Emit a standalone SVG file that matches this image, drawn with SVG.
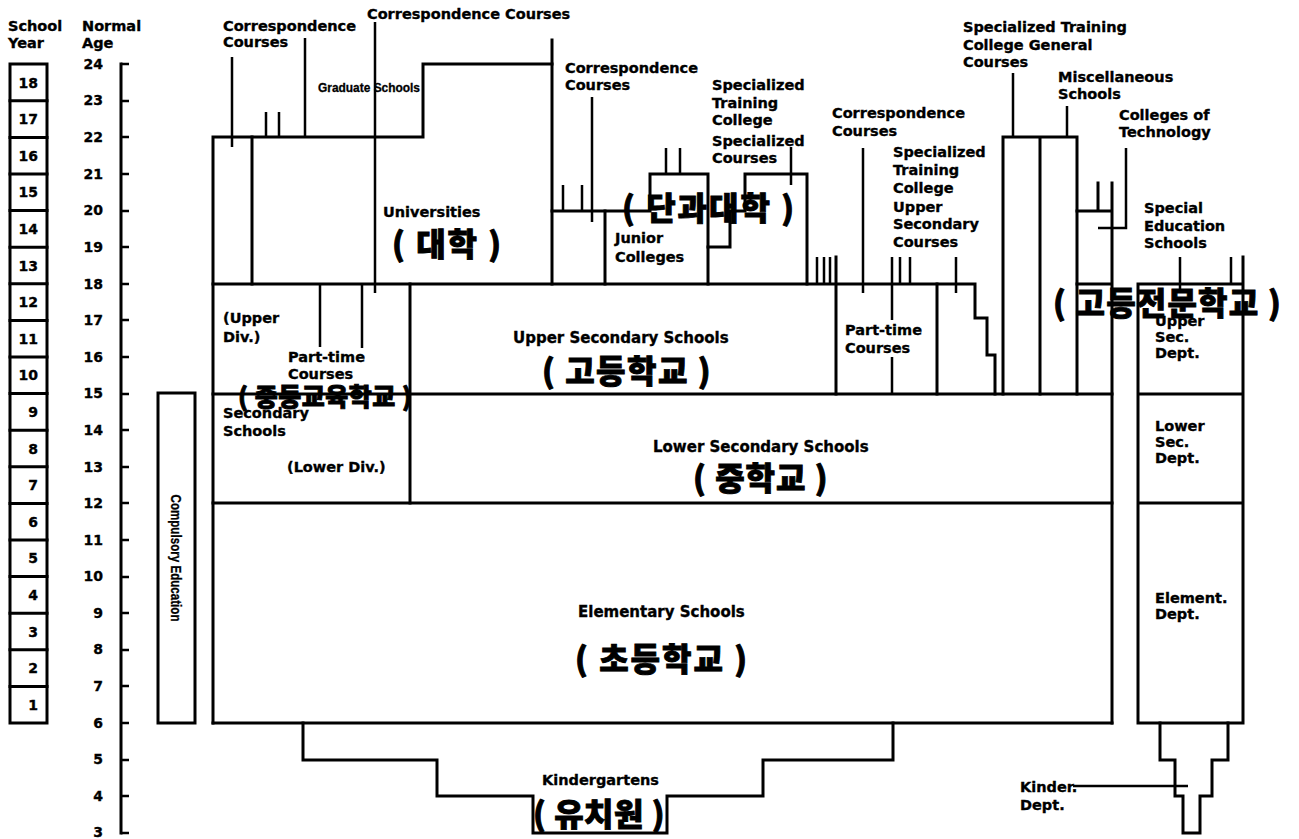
<svg xmlns="http://www.w3.org/2000/svg" width="1299" height="839" viewBox="0 0 1299 839">
<style>
.ln{fill:none;stroke:#000;stroke-width:3;stroke-linecap:square}
.pt{fill:none;stroke:#000;stroke-width:2.5;stroke-linecap:butt}
.t{font-family:"DejaVu Sans",sans-serif;font-weight:bold;font-size:14.5px;fill:#000;stroke:#000;stroke-width:0.35px}
.tb{font-size:15px}
.n{font-family:"DejaVu Sans",sans-serif;font-weight:bold;font-size:14px;fill:#000;stroke:#000;stroke-width:0.35px}
.k{font-family:"Noto Sans CJK KR",sans-serif;font-weight:900;font-size:32px;fill:#000;stroke:#000;stroke-width:0.9px;letter-spacing:2px}
.c{font-family:"Liberation Sans",sans-serif;font-weight:bold;fill:#000;stroke:#000;stroke-width:0.3px}
</style>
<rect width="1299" height="839" fill="#fff"/>

<g id="headers">
<text class="t" x="8" y="31">School</text>
<text class="t" x="8" y="48">Year</text>
<text class="t" x="82" y="31">Normal</text>
<text class="t" x="82" y="48">Age</text>
</g>

<g id="school-year">
<rect class="ln" x="10" y="64" width="37" height="659"/>
<path class="ln" d="M10,686.4H47M10,649.8H47M10,613.2H47M10,576.6H47M10,540H47M10,503.4H47M10,466.8H47M10,430.2H47M10,393.6H47M10,357H47M10,320.4H47M10,283.8H47M10,247.2H47M10,210.6H47M10,174H47M10,137.4H47M10,100.8H47"/>
<g class="n" text-anchor="end">
<text x="38" y="710">1</text><text x="38" y="673">2</text><text x="38" y="637">3</text><text x="38" y="600">4</text><text x="38" y="563">5</text><text x="38" y="527">6</text><text x="38" y="490">7</text><text x="38" y="454">8</text><text x="38" y="417">9</text><text x="38" y="380">10</text><text x="38" y="344">11</text><text x="38" y="307">12</text><text x="38" y="271">13</text><text x="38" y="234">14</text><text x="38" y="197">15</text><text x="38" y="161">16</text><text x="38" y="124">17</text><text x="38" y="88">18</text>
</g>
</g>

<g id="age-axis">
<path class="ln" d="M121,64V833"/>
<path class="pt" d="M121,64H129M121,101H129M121,137H129M121,174H129M121,211H129M121,247H129M121,284H129M121,320H129M121,357H129M121,394H129M121,430H129M121,467H129M121,503H129M121,540H129M121,577H129M121,613H129M121,650H129M121,686H129M121,723H129M121,760H129M121,796H129M121,833H129"/>
<g class="n" text-anchor="end">
<text x="103" y="69">24</text><text x="103" y="105">23</text><text x="103" y="142">22</text><text x="103" y="179">21</text><text x="103" y="215">20</text><text x="103" y="252">19</text><text x="103" y="289">18</text><text x="103" y="325">17</text><text x="103" y="362">16</text><text x="103" y="398">15</text><text x="103" y="435">14</text><text x="103" y="472">13</text><text x="103" y="508">12</text><text x="103" y="545">11</text><text x="103" y="581">10</text><text x="103" y="618">9</text><text x="103" y="654">8</text><text x="103" y="691">7</text><text x="103" y="728">6</text><text x="103" y="764">5</text><text x="103" y="801">4</text><text x="103" y="837">3</text>
</g>
</g>

<g id="compulsory">
<rect class="ln" x="158" y="393" width="37" height="330"/>
<text class="c" font-size="15" text-anchor="middle" transform="translate(176,558) rotate(90)" y="5" textLength="127" lengthAdjust="spacingAndGlyphs">Compulsory Education</text>
</g>

<g id="universities">
<path class="ln" d="M213,723V137H423V64H552"/>
<path class="ln" d="M552,40V284"/>
<path class="ln" d="M252,137V284"/>
<text class="t" x="383" y="217">Universities</text>
<text class="c" font-size="12" x="318" y="92" textLength="102" lengthAdjust="spacingAndGlyphs">Graduate Schools</text>
</g>

<g id="junior-colleges">
<path class="ln" d="M552,211H650V174H708V284"/>
<path class="ln" d="M605,211V284"/>
<text class="t" x="615" y="243">Junior</text>
<text class="t" x="615" y="262">Colleges</text>
</g>

<g id="specialized-college">
<path class="ln" d="M708,247H730V211H745V174H807V284"/>
<text class="t" x="712" y="90">Specialized</text>
<text class="t" x="712" y="108">Training</text>
<text class="t" x="712" y="125">College</text>
<text class="t" x="712" y="146">Specialized</text>
<text class="t" x="712" y="163">Courses</text>
</g>

<g id="upper-secondary">
<path class="ln" d="M213,284H975V318H987V355H995V394"/>
<path class="ln" d="M836,257V394M937,284V394"/>
<text class="t tb" x="513" y="343">Upper Secondary Schools</text>
<text class="t" x="845" y="335">Part-time</text>
<text class="t" x="845" y="353">Courses</text>
</g>

<g id="secondary-schools">
<path class="ln" d="M410,284V503"/>
<text class="t" x="223" y="323">(Upper</text>
<text class="t" x="223" y="342">Div.)</text>
<text class="t" x="288" y="362">Part-time</text>
<text class="t" x="288" y="379">Courses</text>
<text class="t" x="223" y="418">Secondary</text>
<text class="t" x="223" y="436">Schools</text>
<text class="t" x="287" y="472">(Lower Div.)</text>
</g>

<g id="training-general">
<path class="ln" d="M1003,394V137H1077V394M1040,137V394"/>
<text class="t" x="963" y="32">Specialized Training</text>
<text class="t" x="963" y="50">College General</text>
<text class="t" x="963" y="67">Courses</text>
<text class="t" x="1058" y="82">Miscellaneous</text>
<text class="t" x="1058" y="99">Schools</text>
</g>

<g id="colleges-technology">
<path class="ln" d="M1077,211H1112M1112,183V723M1098,183V211M1077,284H1112"/>
<text class="t" x="1119" y="120">Colleges of</text>
<text class="t" x="1119" y="137">Technology</text>
</g>

<g id="lower-elementary">
<path class="ln" d="M213,394H1112M213,503H1112M213,723H1112"/>
<text class="t tb" x="653" y="452">Lower Secondary Schools</text>
<text class="t tb" x="578" y="617">Elementary Schools</text>
</g>

<g id="kindergartens">
<path class="ln" d="M303,723V760H437V796H533V833H667V796H763V760H893V723"/>
<text class="t" x="542" y="785">Kindergartens</text>
</g>

<g id="special-education">
<path class="ln" d="M1138,723V284H1243V723ZM1243,257V284M1138,394H1243M1138,503H1243"/>
<path class="ln" d="M1160,723V760H1175V796H1183V833H1200V796H1212V760H1228V723"/>
<text class="t" x="1144" y="213">Special</text>
<text class="t" x="1144" y="231">Education</text>
<text class="t" x="1144" y="248">Schools</text>
<text class="t" x="1155" y="326">Upper</text>
<text class="t" x="1155" y="342">Sec.</text>
<text class="t" x="1155" y="358">Dept.</text>
<text class="t" x="1155" y="431">Lower</text>
<text class="t" x="1155" y="447">Sec.</text>
<text class="t" x="1155" y="463">Dept.</text>
<text class="t" x="1155" y="603">Element.</text>
<text class="t" x="1155" y="619">Dept.</text>
<text class="t" x="1020" y="792">Kinder.</text>
<text class="t" x="1020" y="810">Dept.</text>
</g>

<g id="correspondence">
<text class="t" x="223" y="31">Correspondence</text>
<text class="t" x="223" y="47">Courses</text>
<text class="t" x="367" y="19">Correspondence Courses</text>
<text class="t" x="565" y="73">Correspondence</text>
<text class="t" x="565" y="90">Courses</text>
<text class="t" x="832" y="118">Correspondence</text>
<text class="t" x="832" y="136">Courses</text>
<text class="t" x="893" y="157">Specialized</text>
<text class="t" x="893" y="175">Training</text>
<text class="t" x="893" y="193">College</text>
<text class="t" x="893" y="212">Upper</text>
<text class="t" x="893" y="229">Secondary</text>
<text class="t" x="893" y="247">Courses</text>
</g>

<g id="connectors">
<path class="pt" d="M232,57V147M266,112V137M279,112V137M305,38V137M375,22V293M320,284V347M362,284V348M563,185V211M582,185V211M592,97V222M666,148V174M680,148V174M791,147V185M817,257V284M824,257V284M830,257V284M863,148V293M892,257V320M892,357V394M900,257V284M910,257V284M956,257V293M1013,73V137M1067,106V137M1126,148V228H1098M1180,257V293M1231,257V284M1073,786H1188"/>
</g>

<g id="korean-labels">
<text class="k" x="392" y="256">( 대학 )</text>
<text class="k" x="622" y="220">( 단과대학 )</text>
<text class="k" x="1053" y="315" style="letter-spacing:1.2px">( 고등전문학교 )</text>
<text class="k" x="542" y="383" style="letter-spacing:1.5px">( 고등학교 )</text>
<text class="k" x="238" y="406" style="font-size:25px;letter-spacing:0.5px">( 중등교육학교 )</text>
<text class="k" x="693" y="490" style="letter-spacing:1px">( 중학교 )</text>
<text class="k" x="575" y="671">( 초등학교 )</text>
<text class="k" x="533" y="826" style="letter-spacing:0.5px">( 유치원 )</text>
</g>
</svg>
